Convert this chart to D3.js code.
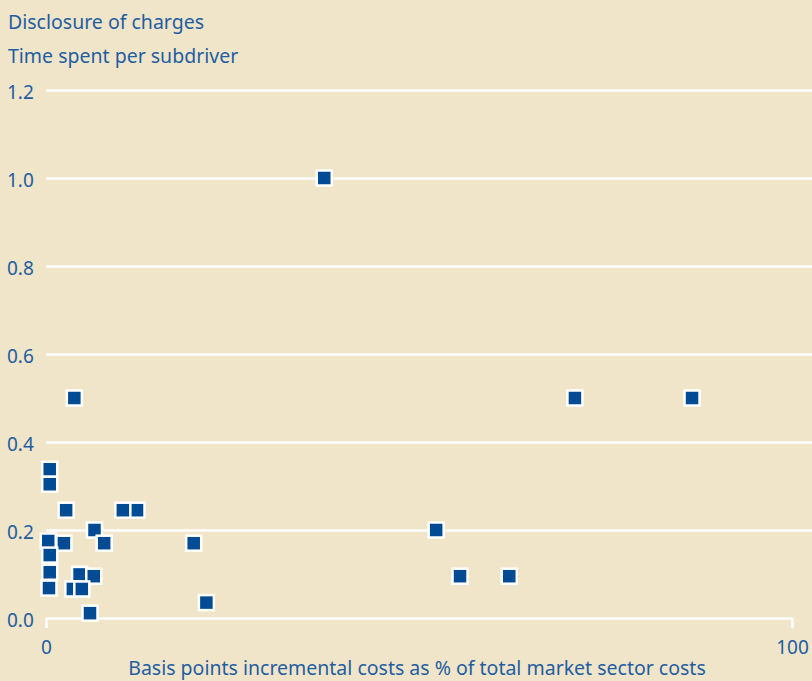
<!DOCTYPE html>
<html>
<head>
<meta charset="utf-8">
<script src="https://cdn.jsdelivr.net/npm/d3@7"></script>
<style>
  html, body { margin: 0; padding: 0; background: #f0e5c8; }
  svg text { font-family: "Noto Sans", "Open Sans", sans-serif; fill: #1f5da3; }
</style>
</head>
<body>
<div class="scatter"></div>
<script>
// data
var costs = [37.3, 70.9, 86.6, 3.8, 0.5, 0.5, 2.7, 12.2, 10.3, 6.5, 52.3,
             0.3, 2.4, 7.8, 19.8, 0.5, 0.5, 4.5, 6.4, 55.5, 62.1,
             0.4, 3.6, 4.8, 21.5, 5.9];
var timeSpent = [1.0, 0.5, 0.5, 0.5, 0.338, 0.304, 0.245, 0.245, 0.245, 0.2, 0.2,
                 0.175, 0.17, 0.17, 0.17, 0.143, 0.104, 0.099, 0.095, 0.095, 0.095,
                 0.068, 0.066, 0.066, 0.035, 0.011];
var yTicks = [0, 0.2, 0.4, 0.6, 0.8, 1.0, 1.2];
var xTicks = [0, 100];

var svgWidth = 812, svgHeight = 681;
var margin = {top: 90, right: 20, bottom: 63, left: 46};
var width = svgWidth - margin.left - margin.right;
var height = svgHeight - margin.top - margin.bottom;

var svg = d3.select(".scatter")
  .append("svg")
  .attr("width", svgWidth)
  .attr("height", svgHeight);

var chart = svg.append("g")
  .attr("transform", `translate(${margin.left}, ${margin.top})`);

var xScale = d3.scaleLinear().domain([0, 100]).range([0, width]);
var yScale = d3.scaleLinear().domain([0, 1.2]).range([height, 0]);

// gridlines (white), run to the right edge
var leftAxis = d3.axisLeft(yScale)
  .tickValues(yTicks)
  .tickFormat(d3.format(".1f"))
  .tickSize(-(svgWidth - margin.left));
var yAxis = chart.append("g").call(leftAxis);
yAxis.select(".domain").remove();
yAxis.selectAll(".tick line")
  .attr("stroke", "#ffffff")
  .attr("stroke-width", 2.5)
  .filter(d => d === 0).remove();
yAxis.selectAll(".tick text")
  .style("font-size", "19px")
  .attr("text-anchor", "start")
  .attr("x", 7 - margin.left)
  .attr("dy", "0.45em");

// bottom axis with end ticks
var bottomAxis = d3.axisBottom(xScale)
  .tickValues(xTicks)
  .tickSize(10)
  .tickSizeOuter(0)
  .tickPadding(13);
var xAxis = chart.append("g")
  .attr("transform", `translate(0, ${height})`)
  .call(bottomAxis);
xAxis.select(".domain").attr("stroke", "#ffffff").attr("stroke-width", 2.5);
xAxis.selectAll(".tick line").attr("stroke", "#ffffff").attr("stroke-width", 2.5);
xAxis.selectAll(".tick text").style("font-size", "19px");

// markers
var points = costs.map((c, i) => ({x: c, y: timeSpent[i]}));
var s = 15;
chart.selectAll("rect.pt")
  .data(points)
  .enter()
  .append("rect")
  .attr("class", "pt")
  .attr("x", d => xScale(d.x) - s / 2)
  .attr("y", d => yScale(d.y) - s / 2)
  .attr("width", s)
  .attr("height", s)
  .attr("fill", "#004b93")
  .attr("stroke", "#ffffff")
  .attr("stroke-width", 2.5);

// titles
svg.append("text").attr("x", 8).attr("y", 29)
  .style("font-size", "19.5px").text("Disclosure of charges");
svg.append("text").attr("x", 8).attr("y", 63)
  .style("font-size", "19.5px").text("Time spent per subdriver");
svg.append("text")
  .attr("x", margin.left + width / 2 - 2).attr("y", 675)
  .attr("text-anchor", "middle")
  .style("font-size", "19.5px")
  .text("Basis points incremental costs as % of total market sector costs");
</script>
</body>
</html>
